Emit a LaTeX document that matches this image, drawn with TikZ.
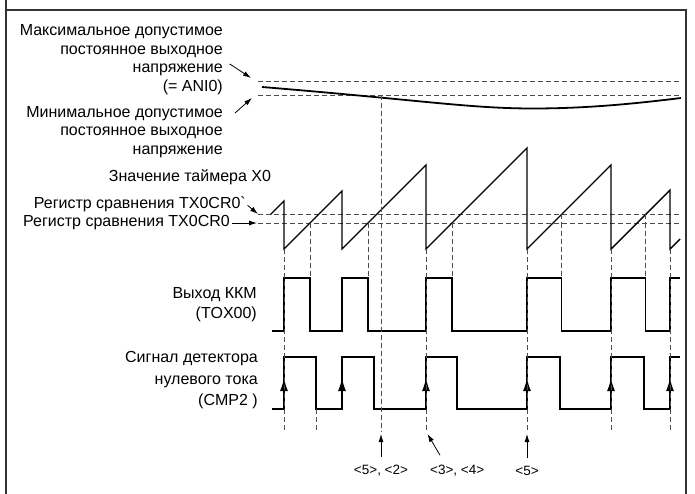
\documentclass[tikz,border=0pt]{standalone}
\usepackage{fontspec}
\setmainfont{Liberation Sans}
\usetikzlibrary{arrows.meta}

\begin{document}
\begin{tikzpicture}[x=1pt,y=-1pt,
    wave/.style={line width=1.4pt},
    guide/.style={gray!60!black,line width=0.9pt,dash pattern=on 5pt off 3pt},
    lbl/.style={font=\fontsize{16}{18.5}\selectfont,align=right,inner sep=0pt},
    evlbl/.style={font=\fontsize{13.5}{15}\selectfont,inner sep=0pt},
    ptr/.style={-{Latex[length=8pt,width=5pt]},line width=0.8pt},
    edge/.style={-{Latex[length=13pt,width=8pt]},line width=1.4pt}]

    \useasboundingbox (0,0) rectangle (695,494);
    \draw[gray!40!black,line width=1.4pt] (6,0) -- (6,494) (6,10) -- (686,10) -- (686,494);

    % output voltage limits
    \node[lbl,anchor=east] (maxlbl) at (223,59.5) {Максимальное допустимое\\постоянное выходное\\напряжение\\(= ANI0)};
    \node[lbl,anchor=east] (minlbl) at (223,132) {Минимальное допустимое\\постоянное выходное\\напряжение};
    \coordinate (maxtip) at (251,78);
    \coordinate (mintip) at (252,98);
    \draw[ptr,shorten <=8pt] (maxlbl.east) -- (maxtip);
    \draw[ptr] ([shift={(12,-19)}]minlbl.east) -- (mintip);

    \draw[guide] (258,81) -- (681,81) (258,95) -- (681,95);
    \draw[line width=1.8pt] (262,87) .. controls (420,100) and (470,108.5) .. (533,108.5)
        .. controls (590,108.5) and (640,103) .. (681,98);

    % timer X0
    \node[lbl] (cntlbl) at (190,177) {Значение таймера X0};
    \node[lbl,anchor=east] (cmpAlbl) at (246,204) {Регистр сравнения TX0CR0\textasciigrave};
    \node[lbl,anchor=east] (cmpBlbl) at (230,223) {Регистр сравнения TX0CR0};
    \coordinate (cmpAtip) at (258,214);
    \coordinate (cmpBtip) at (257,223);
    \draw[ptr,shorten <=2pt] (cmpAlbl.east) -- (cmpAtip);
    \draw[ptr,shorten <=2pt] (cmpBlbl.east) -- (cmpBtip);

    \draw[guide] (258,214.5) -- (680,214.5) (258,223) -- (680,223);
    \draw[wave] (270.5,214.5) -- (284,201) -- (284,249) -- (342,191) -- (342,249)
        -- (426,165) -- (426,249) -- (527,148) -- (527,249) -- (611,165) -- (611,249)
        -- (670,190) -- (670,249) -- (680,239);

    % PFC output
    \node[lbl,anchor=east,font=\fontsize{16}{20}\selectfont] (pwmlbl) at (257,305) {Выход ККМ\\(TOX00)};
    \draw[wave] (272,331) -- (284,331) -- (284,278) -- (310,278) -- (310,331) -- (342,331)
        -- (342,278) -- (368,278) -- (368,331) -- (426,331) -- (426,278) -- (452,278)
        -- (452,331) -- (527,331) -- (527,278) -- (561.5,278) -- (561.5,331) -- (611,331)
        -- (611,278) -- (645.5,278) -- (645.5,331) -- (670,331) -- (670,278) -- (680,278);

    % zero current detector
    \node[lbl,anchor=east,font=\fontsize{16}{21.5}\selectfont] (zcdlbl) at (258,380.5) {Сигнал детектора\\нулевого тока\\(CMP2 )};
    \draw[wave] (272,409) -- (284,409) -- (284,357) -- (316,357) -- (316,409) -- (342,409)
        -- (342,357) -- (374,357) -- (374,409) -- (426,409) -- (426,357) -- (457,357)
        -- (457,409) -- (527,409) -- (527,357) -- (560,357) -- (560,409) -- (611,409)
        -- (611,357) -- (644,357) -- (644,409) -- (670,409) -- (670,357) -- (680,357);
    \draw[edge] (284,409) -- (284,378);
    \draw[edge] (342,409) -- (342,378);
    \draw[edge] (426,409) -- (426,378);
    \draw[edge] (527,409) -- (527,378);
    \draw[edge] (611,409) -- (611,378);
    \draw[edge] (670,409) -- (670,378);

    % timing guides
    \draw[guide] (284,249) -- (284,432) (426,249) -- (426,432) (527,249) -- (527,432)
        (611,249) -- (611,432) (670,249) -- (670,432) (381,95) -- (381,432)
        (316,409) -- (316,432);
    \draw[guide] (310,223) -- (310,278) (368,223) -- (368,278) (452,223) -- (452,278)
        (561.5,214.5) -- (561.5,278) (645.5,214.5) -- (645.5,278);

    % events
    \node[evlbl] (evA) at (381,471) {<5>, <2>};
    \node[evlbl,anchor=west] (evB) at (430,471) {<3>, <4>};
    \node[evlbl] (evC) at (527,471) {<5>};
    \coordinate (evAtip) at (381,434);
    \coordinate (evBtip) at (427.5,434);
    \coordinate (evCtip) at (527,434);
    \draw[ptr,shorten <=8pt] (evA.north) -- (evAtip);
    \draw[ptr] ([shift={(10,-10)}]evB.north west) -- (evBtip);
    \draw[ptr,shorten <=8pt] (evC.north) -- (evCtip);
\end{tikzpicture}
\end{document}
